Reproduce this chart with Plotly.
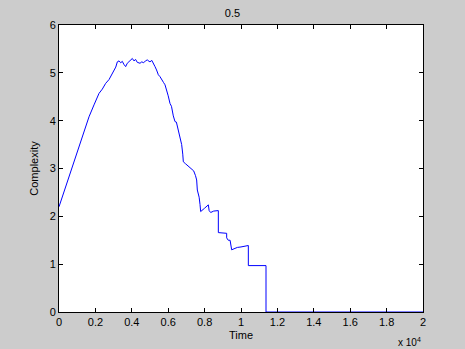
import plotly.graph_objects as go

# Data (time in raw units, complexity)
time = [0, 275, 549, 824, 1099, 1373, 1648, 1923, 2198, 2380, 2564, 2750, 2930, 3050, 3120, 3205,
        3300, 3388, 3480, 3560, 3663, 3750, 3846, 3950, 4029, 4120, 4210, 4300, 4396, 4451,
        4550, 4650, 4750, 4850, 4950, 5000, 5100, 5200, 5275, 5360, 5458, 5550, 5650, 5740,
        5824, 5900, 6000, 6099, 6180, 6280, 6374, 6450, 6550, 6648, 6740, 6800, 6832, 6950,
        7100, 7200, 7289, 7400, 7500, 7564, 7600, 7656, 7700, 7747, 7784, 8000, 8205, 8250,
        8333, 8500, 8718, 8755, 8755, 9212, 9212, 9300, 9400, 9487, 9670, 9800, 10000,
        10311, 10403, 10403, 11374, 11374, 20000]
complexity = [2.20, 2.52, 2.83, 3.15, 3.46, 3.77, 4.08, 4.33, 4.57, 4.66, 4.78, 4.86, 4.99, 5.06, 5.12, 5.23,
              5.25, 5.21, 5.24, 5.18, 5.13, 5.20, 5.23, 5.27, 5.30, 5.25, 5.28, 5.22, 5.21, 5.20,
              5.23, 5.21, 5.25, 5.27, 5.24, 5.23, 5.26, 5.20, 5.13, 5.06, 4.96, 4.92, 4.84, 4.80,
              4.75, 4.62, 4.52, 4.36, 4.30, 4.10, 3.98, 3.97, 3.82, 3.67, 3.50, 3.30, 3.14, 3.10,
              3.05, 3.02, 3.00, 2.95, 2.85, 2.76, 2.55, 2.48, 2.40, 2.25, 2.10, 2.17, 2.24, 2.12,
              2.08, 2.11, 2.12, 2.12, 1.66, 1.645, 1.55, 1.50, 1.50, 1.30, 1.33, 1.35, 1.36,
              1.39, 1.39, 0.97, 0.97, 0.0, 0.0]

x_tickvals = [0, 2000, 4000, 6000, 8000, 10000, 12000, 14000, 16000, 18000, 20000]
x_ticktext = ["0", "0.2", "0.4", "0.6", "0.8", "1", "1.2", "1.4", "1.6", "1.8", "2"]
y_tickvals = [0, 1, 2, 3, 4, 5, 6]

FONT = "Liberation Sans, Arial, sans-serif"

fig = go.Figure()
fig.add_trace(go.Scatter(x=time, y=complexity, mode="lines",
                         line=dict(color="#0000ff", width=1), showlegend=False))

axis_common = dict(showline=True, linecolor="black", linewidth=1, mirror="allticks",
                   ticks="inside", ticklen=4, tickcolor="black", showgrid=False,
                   zeroline=False, automargin=False,
                   tickfont=dict(family=FONT, size=11, color="black"))

fig.update_layout(
    width=465, height=349,
    paper_bgcolor="#cccccc", plot_bgcolor="white",
    margin=dict(l=59, r=42, t=25, b=37, autoexpand=False),
    title=dict(text="0.5", x=0.5, xanchor="center", y=1 - 13 / 349, yanchor="middle",
               font=dict(family=FONT, size=11, color="black")),
    xaxis=dict(range=[0, 20000], tickvals=x_tickvals, ticktext=x_ticktext,
               title=dict(text="Time", standoff=4, font=dict(family=FONT, size=11, color="black")),
               **axis_common),
    yaxis=dict(range=[0, 6], tickvals=y_tickvals,
               title=dict(text="Complexity", standoff=8, font=dict(family=FONT, size=11, color="black")),
               **axis_common),
    annotations=[dict(text="x 10<sup>4</sup>", xref="paper", yref="paper", x=1.0, y=-0.105,
                      xanchor="right", yanchor="middle", showarrow=False,
                      font=dict(family=FONT, size=10, color="black"))],
)

fig.write_html("out.html")
